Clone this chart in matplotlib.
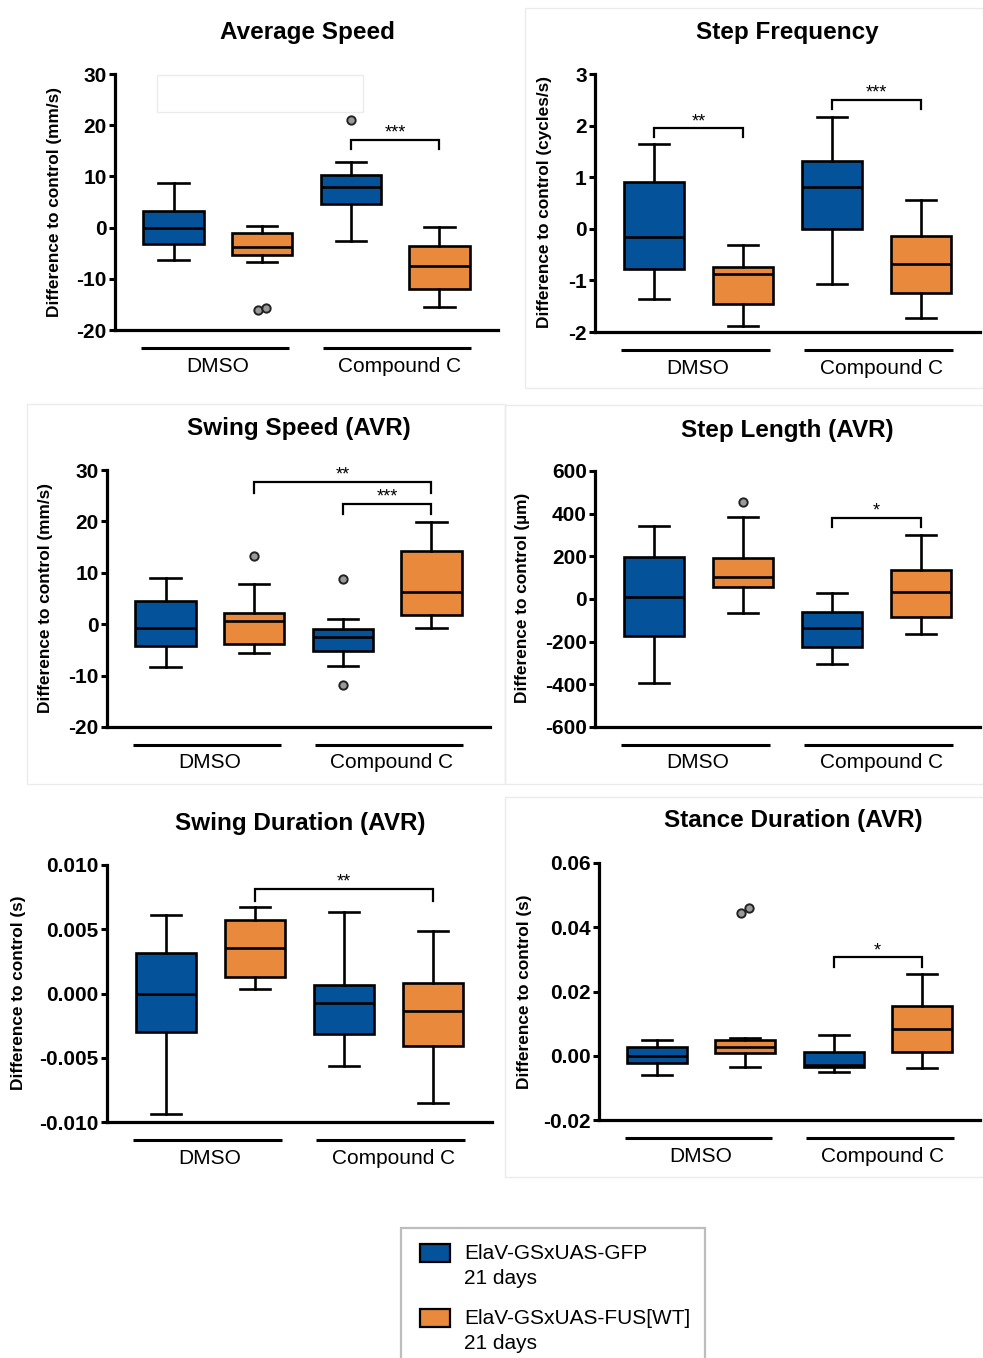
import numpy as np
import matplotlib
matplotlib.use('Agg')
import matplotlib.pyplot as plt
from matplotlib.patches import Rectangle

plt.rcParams['font.family'] = ['Liberation Sans', 'DejaVu Sans']

W, H = 983, 1358
BLUE = '#03529a'
ORANGE = '#e8893b'

groups = ['DMSO', 'Compound C']
genotypes = ['ElaV-GSxUAS-GFP\n21 days', 'ElaV-GSxUAS-FUS[WT]\n21 days']

# box order: GFP/DMSO, FUS/DMSO, GFP/CompC, FUS/CompC
# each box: (whisker low, Q1, median, Q3, whisker high)
avg_speed = [(-6.4, -3.3, 0.0, 3.3, 8.7),
             (-6.7, -5.3, -3.8, -1.0, 0.3),
             (-2.6, 4.6, 8.0, 10.3, 12.8),
             (-15.5, -12.0, -7.5, -3.6, 0.1)]
avg_speed_out = [[], [-16.1, -15.8], [21.0], []]

step_freq = [(-1.37, -0.77, -0.15, 0.90, 1.65),
             (-1.88, -1.45, -0.88, -0.74, -0.32),
             (-1.07, -0.01, 0.81, 1.31, 2.17),
             (-1.73, -1.25, -0.68, -0.13, 0.56)]
step_freq_out = [[], [], [], []]

swing_speed = [(-8.3, -4.2, -0.8, 4.6, 9.0),
               (-5.7, -3.8, 0.7, 2.2, 7.9),
               (-8.1, -5.3, -2.4, -1.0, 1.1),
               (-0.7, 1.8, 6.3, 14.3, 19.8)]
swing_speed_out = [[], [13.3], [8.7, -11.8], []]

step_len = [(-392, -173, 11, 195, 340),
            (-64, 55, 105, 191, 383),
            (-306, -223, -137, -62, 30),
            (-162, -83, 31, 136, 298)]
step_len_out = [[], [453], [], []]

swing_dur = [(-0.00935, -0.00299, 0.0, 0.00314, 0.0061),
             (0.00036, 0.0013, 0.00356, 0.00571, 0.00675),
             (-0.00561, -0.00317, -0.00073, 0.0007, 0.00636),
             (-0.00849, -0.00405, -0.0014, 0.00083, 0.00486)]
swing_dur_out = [[], [], [], []]

stance_dur = [(-0.0059, -0.0023, 0.0, 0.0027, 0.0050),
              (-0.0034, 0.0008, 0.0027, 0.0048, 0.0054),
              (-0.0052, -0.0035, -0.0029, 0.0011, 0.0065),
              (-0.0038, 0.0013, 0.0084, 0.0155, 0.0255)]
stance_dur_out = [[], [0.0443, 0.0459], [], []]

# significance brackets: (box a, box b, bar height, leg end, stars)
avg_speed_sig = [(2, 3, 17.2, 15.4, '***')]
step_freq_sig = [(0, 1, 1.95, 1.78, '**'), (2, 3, 2.50, 2.32, '***')]
swing_speed_sig = [(1, 3, 27.7, 25.5, '**'), (2, 3, 23.4, 21.4, '***')]
step_len_sig = [(2, 3, 381, 339, '*')]
swing_dur_sig = [(1, 3, 0.00813, 0.0072, '**')]
stance_dur_sig = [(2, 3, 0.0306, 0.0276, '*')]

speed_ticks = [-20, -10, 0, 10, 20, 30]
freq_ticks = [-2, -1, 0, 1, 2, 3]
len_ticks = [-600, -400, -200, 0, 200, 400, 600]
swing_dur_ticks = [-0.010, -0.005, 0.0, 0.005, 0.010]
swing_dur_labels = ['-0.010', '-0.005', '0.000', '0.005', '0.010']
stance_ticks = [-0.02, 0.0, 0.02, 0.04, 0.06]
stance_labels = ['-0.02', '0.00', '0.02', '0.04', '0.06']


def fx(x):
    return x / W


def fy(y):
    return 1 - y / H


panels = [
    dict(title='Average Speed', ylabel='Difference to control (mm/s)',
         stats=avg_speed, out=avg_speed_out, sig=avg_speed_sig,
         ticks=speed_ticks, labels=None,
         rect=(115, 498, 74, 330), tpos=(307, 32), ypos=(55, 202)),
    dict(title='Step Frequency', ylabel='Difference to control (cycles/s)',
         stats=step_freq, out=step_freq_out, sig=step_freq_sig,
         ticks=freq_ticks, labels=None,
         rect=(595, 980, 74, 332), tpos=(787, 33), ypos=(545, 202)),
    dict(title='Swing Speed (AVR)', ylabel='Difference to control (mm/s)',
         stats=swing_speed, out=swing_speed_out, sig=swing_speed_sig,
         ticks=speed_ticks, labels=None,
         rect=(107, 490, 470, 727), tpos=(299, 429), ypos=(46, 598)),
    dict(title='Step Length (AVR)', ylabel='Difference to control (µm)',
         stats=step_len, out=step_len_out, sig=step_len_sig,
         ticks=len_ticks, labels=None,
         rect=(595, 980, 471, 727), tpos=(787, 430), ypos=(522, 598)),
    dict(title='Swing Duration (AVR)', ylabel='Difference to control (s)',
         stats=swing_dur, out=swing_dur_out, sig=swing_dur_sig,
         ticks=swing_dur_ticks, labels=swing_dur_labels,
         rect=(107, 492, 865, 1122), tpos=(300, 824), ypos=(19, 993)),
    dict(title='Stance Duration (AVR)', ylabel='Difference to control (s)',
         stats=stance_dur, out=stance_dur_out, sig=stance_dur_sig,
         ticks=stance_ticks, labels=stance_labels,
         rect=(599, 980, 863, 1120), tpos=(793, 821), ypos=(525, 992)),
]

fig = plt.figure(figsize=(W / 100, H / 100), dpi=100)
fig.patch.set_facecolor('white')

# faint outlines of the pasted panels
for x0, y0, x1, y1 in [(525, 8, 983, 388), (27, 404, 505, 784),
                       (505, 405, 983, 784), (505, 797, 983, 1177),
                       (157, 75, 363, 112)]:
    fig.patches.append(Rectangle((fx(x0), fy(y1)), (x1 - x0) / W, (y1 - y0) / H,
                                 transform=fig.transFigure, fill=False,
                                 edgecolor='#ebebeb', lw=1.0, zorder=0))

positions = [1, 2, 3, 4]
colors = [BLUE, ORANGE, BLUE, ORANGE]
group_spans = [(0.63, 2.30), (2.69, 4.36)]

for p in panels:
    l, r, t, b = p['rect']
    ax = fig.add_axes([fx(l), fy(b), (r - l) / W, (b - t) / H])
    bstats = []
    for s in p['stats']:
        bstats.append(dict(whislo=s[0], q1=s[1], med=s[2], q3=s[3], whishi=s[4]))
    res = ax.bxp(bstats, positions=positions, widths=0.68, showfliers=False,
                 patch_artist=True, manage_ticks=False,
                 boxprops=dict(lw=1.9, edgecolor='black'),
                 medianprops=dict(color='black', lw=1.9),
                 whiskerprops=dict(color='black', lw=1.9),
                 capprops=dict(color='black', lw=1.9))
    for box, c in zip(res['boxes'], colors):
        box.set_facecolor(c)

    yr = p['ticks'][-1] - p['ticks'][0]
    for pos, vals in zip(positions, p['out']):
        vals = np.array(vals)
        dx = np.zeros(len(vals))
        if len(vals) > 1 and np.ptp(vals) < 0.03 * yr:
            dx = np.linspace(-0.045, 0.045, len(vals))
        ax.plot(pos + dx, vals, 'o', ms=6, mfc='#9a9a9a', mec='#222222',
                mew=1.4, zorder=4, clip_on=False)

    for a, bb, top, leg, stars in p['sig']:
        xa, xb = positions[a], positions[bb]
        ax.plot([xa, xa, xb, xb], [leg, top, top, leg], color='black',
                lw=1.6, clip_on=False, solid_joinstyle='miter')
        ax.annotate(stars, ((xa + xb) / 2, top), xytext=(0, 1.5),
                    textcoords='offset points', ha='center', va='baseline',
                    fontsize=13)

    ax.set_xlim(0.34, 4.66)
    ax.set_ylim(p['ticks'][0], p['ticks'][-1])
    ax.set_yticks(p['ticks'])
    if p['labels'] is not None:
        ax.set_yticklabels(p['labels'])
    else:
        ax.set_yticklabels([str(v) for v in p['ticks']])
    ax.set_xticks([])
    for side in ['top', 'right']:
        ax.spines[side].set_visible(False)
    for side in ['left', 'bottom']:
        ax.spines[side].set_linewidth(2.3)
    ax.tick_params(axis='y', direction='out', length=4.5, width=2.2, pad=1.5,
                   labelsize=15)
    for lab in ax.get_yticklabels():
        lab.set_fontweight('bold')

    # group underlines and names below the axis
    hpx = b - t
    trans = ax.get_xaxis_transform()
    for (g0, g1), name in zip(group_spans, groups):
        ax.plot([g0, g1], [-18 / hpx, -18 / hpx], color='black', lw=2.2,
                transform=trans, clip_on=False, solid_capstyle='butt')
        ax.text((g0 + g1) / 2 + 0.03, -36 / hpx, name, transform=trans,
                ha='center', va='center', fontsize=15)

    fig.text(fx(p['tpos'][0]), fy(p['tpos'][1]), p['title'], ha='center',
             va='center', fontsize=17.5, fontweight='bold')
    fig.text(fx(p['ypos'][0]), fy(p['ypos'][1]), p['ylabel'], ha='center',
             va='center', rotation=90, fontsize=12.4, fontweight='bold')

# legend box, running off the bottom edge
fig.patches.append(Rectangle((fx(401), fy(1375)), 304 / W, (1375 - 1228) / H,
                             transform=fig.transFigure, fill=False,
                             edgecolor='#bdbdbd', lw=1.6))
for k, (label, c) in enumerate(zip(genotypes, [BLUE, ORANGE])):
    yc = 1253 + k * 65
    fig.patches.append(Rectangle((fx(420), fy(yc + 9)), 30 / W, 18 / H,
                                 transform=fig.transFigure, facecolor=c,
                                 edgecolor='black', lw=1.6))
    fig.text(fx(464), fy(yc + 13), label, ha='left', va='center',
             fontsize=15, linespacing=1.38)

fig.savefig('out.png', dpi=100)
